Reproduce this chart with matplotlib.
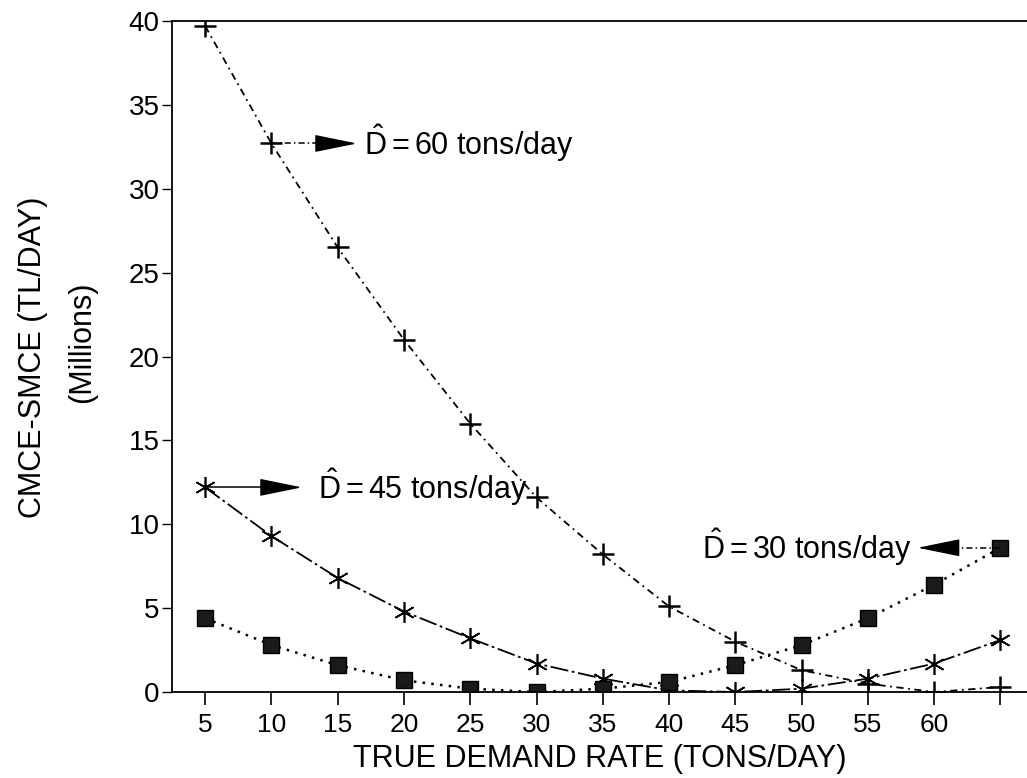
import numpy as np
import matplotlib
matplotlib.use('Agg')
import matplotlib.pyplot as plt

plt.rcParams['font.family'] = ['Liberation Sans', 'DejaVu Sans']
plt.rcParams['mathtext.fontset'] = 'custom'
plt.rcParams['mathtext.rm'] = 'Liberation Sans'
plt.rcParams['mathtext.it'] = 'Liberation Sans'

# true demand rate (tons/day)
demand = [5, 10, 15, 20, 25, 30, 35, 40, 45, 50, 55, 60, 65]
tick_labels = ['5', '10', '15', '20', '25', '30', '35', '40', '45', '50', '55', '60', '']

# CMCE - SMCE (millions TL/day) for each estimated demand
est60 = [39.7, 32.7, 26.5, 21.0, 16.0, 11.6, 8.2, 5.1, 3.0, 1.3, 0.5, 0.0, 0.3]
est45 = [12.2, 9.3, 6.8, 4.8, 3.2, 1.7, 0.8, 0.1, 0.0, 0.2, 0.8, 1.7, 3.1]
est30 = [4.4, 2.8, 1.6, 0.7, 0.2, 0.0, 0.2, 0.6, 1.6, 2.8, 4.4, 6.4, 8.6]

fig = plt.figure(figsize=(10.27, 7.78), dpi=100)
ax = fig.add_axes([0.1675, 0.1105, 0.8325, 0.8625])

ax.plot(demand, est60, color='black', lw=1.3, linestyle=(0, (4, 2.5, 1, 2.5)),
        marker='+', ms=16, mew=1.8)
ax.plot(demand, est45, color='black', lw=1.3, linestyle=(0, (10, 2, 1.5, 2)),
        marker=(6, 2, 0), ms=15, mew=1.2)
ax.plot(demand, est30, color='black', lw=1.8, linestyle=(0, (1, 2.5)),
        marker='s', ms=12, mfc='#1a1a1a', mec='black')


def pointer(x0, y0, x_base, x_tip, ls):
    # shaft from the data point to the base of the pennant head
    ax.plot([x0, x_base], [y0, y0], color='black', lw=1.1, linestyle=ls)
    ax.annotate('', xy=(x_tip, y0), xytext=(x_base, y0),
                arrowprops=dict(arrowstyle='-|>,head_length=2.7,head_width=0.55',
                                color='black', lw=1, shrinkA=0, shrinkB=0,
                                mutation_scale=10))


label_fs = 22
pointer(demand[1], est60[1], 13.67, 16.45, (0, (4, 2, 1, 2)))
ax.text(17.0, est60[1], r'$\hat{\mathrm{D}}=$60 tons/day', fontsize=label_fs,
        va='center', ha='left')

pointer(demand[0], est45[0], 9.7, 12.3, '-')
ax.text(13.5, est45[0], r'$\hat{\mathrm{D}}=$45 tons/day', fontsize=label_fs,
        va='center', ha='left')

pointer(demand[-1], est30[-1], 61.5, 58.75, (0, (4, 2, 1, 2)))
ax.text(58.3, est30[-1], r'$\hat{\mathrm{D}}=$30 tons/day', fontsize=label_fs,
        va='center', ha='right')

ax.set_xlim(2.5, 67.0)
ax.set_ylim(0, 40)
ax.set_xticks(demand)
ax.set_xticklabels(tick_labels, fontsize=19)
ax.set_yticks(np.arange(0, 41, 5))
ax.tick_params(axis='y', labelsize=20, length=7, width=1, direction='out', pad=2)
ax.tick_params(axis='x', length=9, width=1.2, direction='out', pad=6)
ax.spines['right'].set_visible(False)
for s in ['left', 'top', 'bottom']:
    ax.spines[s].set_linewidth(1.3)

fig.text(0.584, 0.024, 'TRUE DEMAND RATE (TONS/DAY)', fontsize=22,
         ha='center', va='center')
fig.text(0.032, 0.541, 'CMCE-SMCE (TL/DAY)', fontsize=22, rotation=90,
         ha='center', va='center')
fig.text(0.08, 0.56, '(Millions)', fontsize=22, rotation=90,
         ha='center', va='center')

fig.savefig('out.png', dpi=100)
